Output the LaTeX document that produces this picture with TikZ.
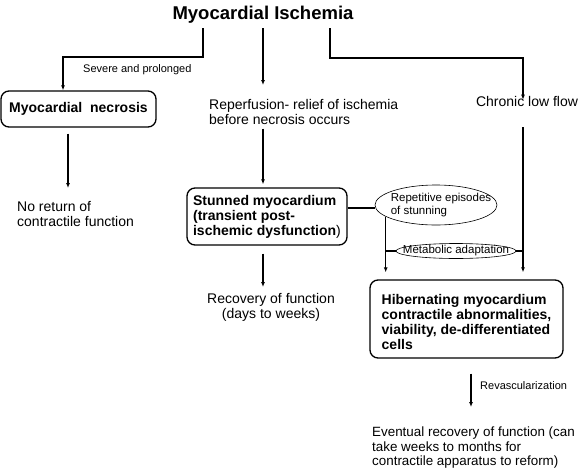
\documentclass[tikz,border=0pt]{standalone}
\usepackage{fontspec}
\setmainfont{Liberation Sans}
\usepackage{tikz}
\usetikzlibrary{arrows.meta,shapes.geometric}

\begin{document}
\begin{tikzpicture}[x=1pt,y=1pt,yscale=-1,
  box/.style={draw,line width=1.3pt,rounded corners=8pt,align=left,inner sep=0,
    font=\fontsize{14}{15}\selectfont\bfseries},
  txt/.style={inner sep=0,font=\fontsize{14}{15}\selectfont},
  lbl/.style={inner sep=0,font=\fontsize{11}{13}\selectfont},
  ovaltxt/.style={inner sep=0,font=\fontsize{11.5}{13}\selectfont},
  oval/.style={draw,ellipse,line width=0.6pt,inner sep=0},
  arr/.style={line width=1.2pt,-{Latex[length=5pt,width=4pt]}},
  lnk/.style={line width=1.5pt}]
\useasboundingbox (0,0) rectangle (581,469);

% Title
\node[inner sep=0,font=\fontsize{18.5}{20}\selectfont\bfseries] (title) at (263,15) {Myocardial Ischemia};
\coordinate (tL) at (203,28);
\coordinate (tM) at (263,28);
\coordinate (tR) at (330,28);

% Boxes
\node[box,minimum width=155pt,minimum height=36pt] (necro) at (78.5,109) {Myocardial\ \ necrosis};
\node[box,minimum width=160pt,minimum height=57pt] (stun) at (267,216.5) {Stunned myocardium\\(transient post-\\ischemic dysfunction{\mdseries)}};
\node[box,minimum width=193pt,minimum height=78pt] (hib) at (466.5,319) {\rule{0pt}{17pt}Hibernating myocardium\\contractile abnormalities,\\viability, de-differentiated\\cells};

% Ovals
\node[oval,minimum width=122pt,minimum height=40pt] (rep) at (436,205) {};
\node[ovaltxt,align=left] (reptxt) at ([xshift=5pt]rep.center) {Repetitive episodes\\of stunning};
\node[oval,minimum width=120pt,minimum height=15pt] (meta) at (456,251) {};
\node[ovaltxt] (metatxt) at (meta.center) {Metabolic adaptation};

% Text Nodes
\node[lbl,anchor=west] (severe) at (83,70) {Severe and prolonged};
\node[txt,anchor=north west,align=left] (reperf) at (209,99) {Reperfusion- relief of ischemia\\before necrosis occurs};
\node[txt] (chronic) at (527,101) {Chronic low flow};
\node[txt,anchor=north west,align=left] (noret) at (17,201) {No return of\\contractile function};
\node[txt,anchor=north,align=center] (recov) at (271,293) {Recovery of function\\(days to weeks)};
\node[lbl,anchor=west] (revasc) at (480,386) {Revascularization};
\node[txt,anchor=north west,align=left,font=\fontsize{13.4}{14.3}\selectfont] (event) at (372,427) {Eventual recovery of function (can\\take weeks to months for\\contractile apparatus to reform)};

% Connectors
\draw[arr] (tL) -- ++(0,29) -| ([xshift=-15.5pt]necro.north);
\draw[arr,shorten >=14pt] (tM) -- (tM |- reperf.north);
\draw[arr] (tR) -- ++(0,30) -| ([xshift=-4pt,yshift=4pt]chronic.north);
\coordinate (rx) at ([xshift=-4pt]chronic.south);
\draw[arr,shorten <=21pt,shorten >=7pt] (rx) -- (rx |- hib.north);
\draw[arr,shorten <=6pt,shorten >=13pt] ([xshift=-10.5pt]necro.south) -- ([xshift=-10.5pt]necro.south |- noret.north);
\draw[arr,shorten <=4pt,shorten >=3pt] (reperf.south -| tM) -- (stun.north -| tM);
\draw[lnk] (stun.east |- rep.183) -- (rep.183);
\draw[arr,shorten >=7pt] (rep.193) -- (rep.193 |- hib.north);
\draw[lnk] (meta.west) -- (meta.west -| rep.193);
\draw[lnk] (meta.east) -- (meta.east -| rx);
\draw[arr,shorten <=8pt,shorten >=6pt] (stun.south -| tM) -- (recov.north -| tM);
\draw[arr,shorten <=15pt,shorten >=20pt] ([xshift=4.5pt]hib.south) -- ([xshift=4.5pt]hib.south |- event.north);

\end{tikzpicture}
\end{document}
